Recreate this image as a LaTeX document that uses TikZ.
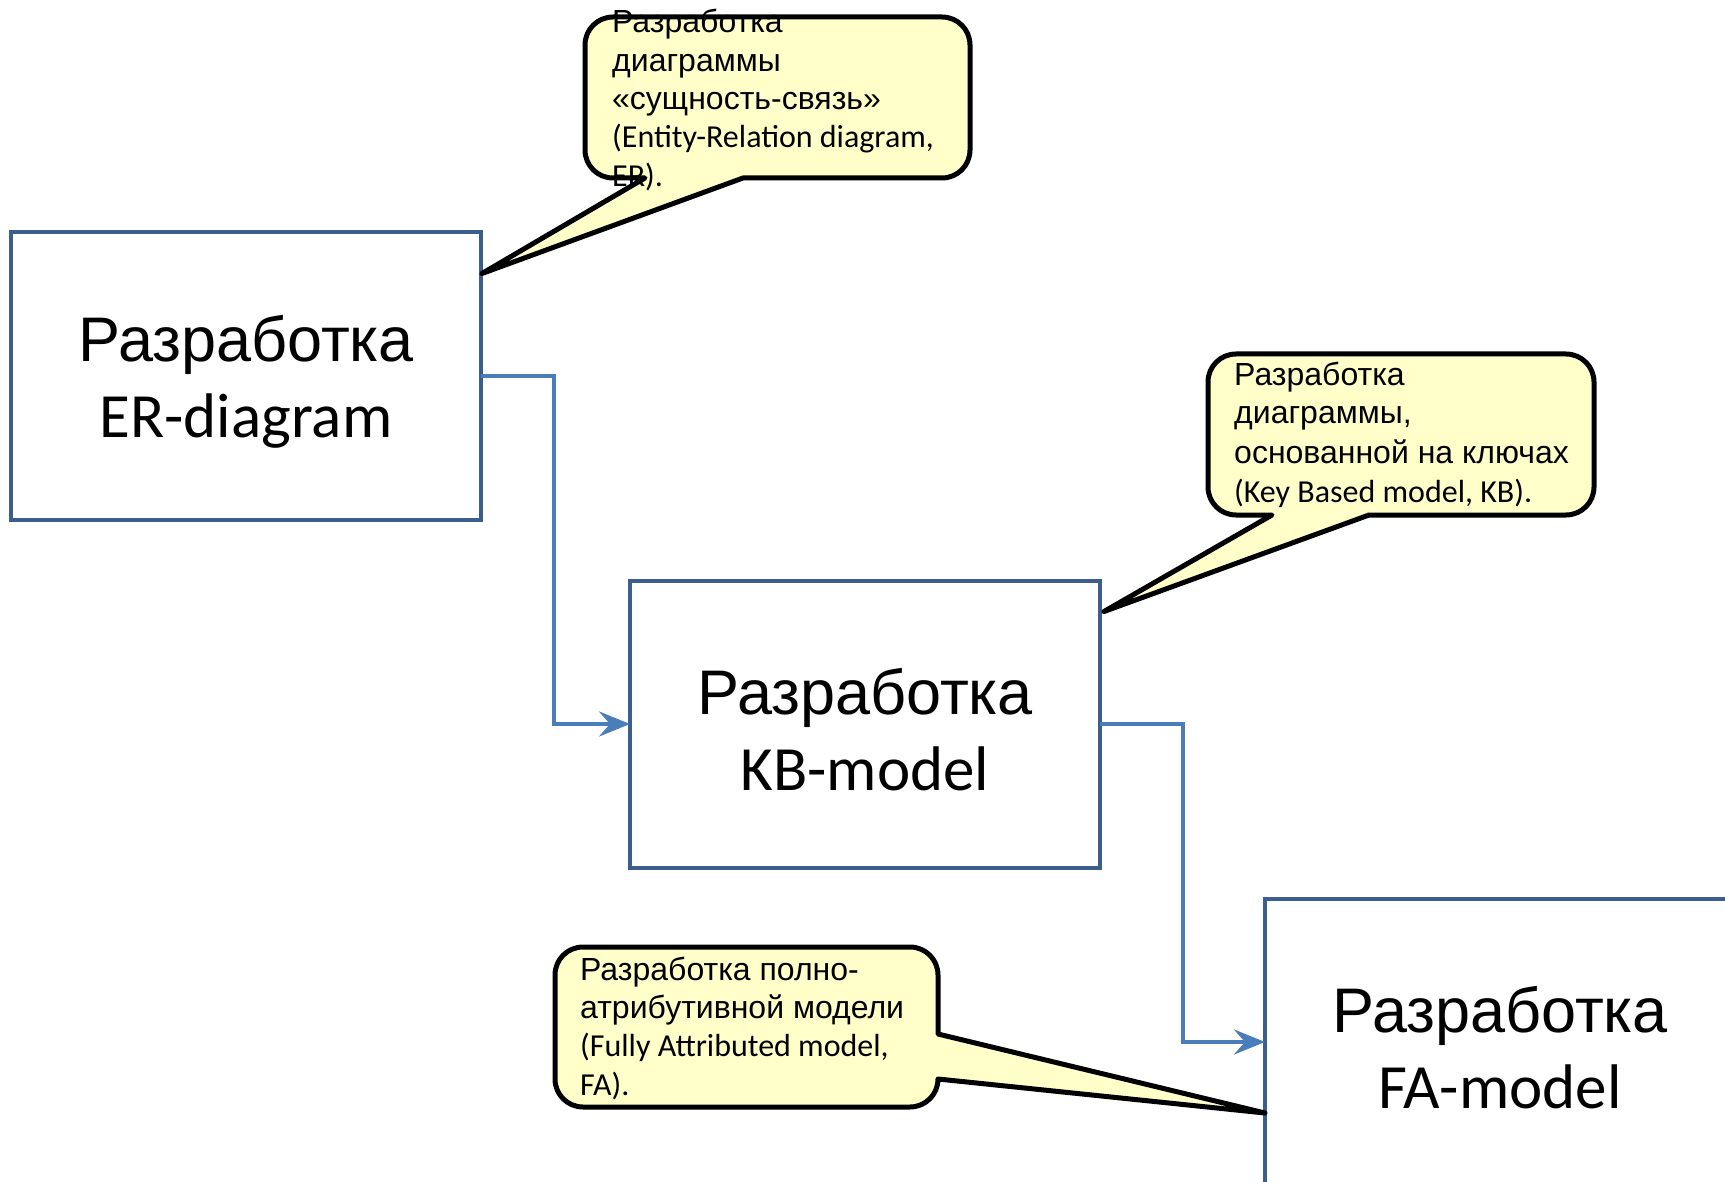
\documentclass[tikz,border=0pt]{standalone}
\usepackage{fontspec}
\setmainfont{Liberation Sans}
\newfontfamily\latfont{Carlito}
\usetikzlibrary{arrows.meta,calc}

\definecolor{boxline}{HTML}{3C5E8C}
\definecolor{linkline}{HTML}{4A7EBB}
\definecolor{noteyellow}{HTML}{FFFFCA}

\tikzset{
  stage/.style={draw=boxline, line width=4pt, fill=white, rectangle,
    minimum width=470pt, minimum height=287pt, inner sep=0pt, outer sep=0pt},
  stagetext/.style={align=center, inner sep=0pt, font=\fontsize{63}{76}\selectfont},
  link/.style={draw=linkline, line width=3.8pt,
    -{Stealth[length=31pt,width=25pt,inset=11pt]}},
  note/.style={draw=black, fill=noteyellow, line width=5pt, line join=round},
  notetext/.style={anchor=base west, inner sep=0pt, font=\fontsize{32}{38}\selectfont},
  notelat/.style={notetext, font=\fontsize{32}{38}\selectfont\latfont}
}

\begin{document}
\begin{tikzpicture}[x=1pt,y=-1pt]
\useasboundingbox (0,0) rectangle (1725,1182);
\clip (0,0) rectangle (1725,1182);

% process stages
\node[stage] (er) at (246,376) {};
\node[stage] (kb) at (865,724) {};
\node[stage] (fa) at (1500,1042) {};
\node[stagetext] (ert) at ($(er)+(0,6)$) {Разработка\\{\latfont ER-diagram}};
\node[stagetext] (kbt) at ($(kb)+(0,6)$) {Разработка\\{\latfont KB-model}};
\node[stagetext] (fat) at ($(fa)+(0,6)$) {Разработка\\{\latfont FA-model}};

% flow between stages
\draw[link] (er.east) -- ($(er.east)+(73,0)$) |- (kb.west);
\draw[link] (kb.east) -- ($(kb.east)+(83,0)$) |- (fa.west);

% pointer tips of the notes
\coordinate (t1) at ($(er.north east)+(1,41)$);
\coordinate (t2) at ($(kb.north east)+(4,31)$);
\coordinate (t3) at ($(fa.west)+(0,71)$);

% note outlines (rounded body with a wedge pointer)
\draw[note] (645,178) -- (t1) -- (743,178) -- (942,178)
  .. controls (957.5,178) and (970,165.5) .. (970,150) -- (970,45)
  .. controls (970,29.5) and (957.5,17) .. (942,17) -- (613,17)
  .. controls (597.5,17) and (585,29.5) .. (585,45) -- (585,150)
  .. controls (585,165.5) and (597.5,178) .. (613,178) -- cycle;
\draw[note] (1272,515) -- (t2) -- (1369,515) -- (1566,515)
  .. controls (1581.5,515) and (1594,502.5) .. (1594,487) -- (1594,382)
  .. controls (1594,366.5) and (1581.5,354) .. (1566,354) -- (1236,354)
  .. controls (1220.5,354) and (1208,366.5) .. (1208,382) -- (1208,487)
  .. controls (1208,502.5) and (1220.5,515) .. (1236,515) -- cycle;
\draw[note] (938,1034) -- (t3) -- (938,1079)
  .. controls (938,1094.5) and (925.5,1107) .. (910,1107) -- (583,1107)
  .. controls (567.5,1107) and (555,1094.5) .. (555,1079) -- (555,975)
  .. controls (555,959.5) and (567.5,947) .. (583,947) -- (910,947)
  .. controls (925.5,947) and (938,959.5) .. (938,975) -- cycle;

% note texts
\node[notetext] (n1a) at (612,33) {Разработка};
\node[notetext] (n1b) at (612,72) {диаграммы};
\node[notetext] (n1c) at (612,110) {«сущность-связь»};
\node[notelat]  (n1d) at (612,148) {(Entity-Relation diagram,};
\node[notelat]  (n1e) at (612,187) {ER).};

\node[notetext] (n2a) at (1234,385) {Разработка};
\node[notetext] (n2b) at (1234,424) {диаграммы,};
\node[notetext] (n2c) at (1234,463) {основанной на ключах};
\node[notelat]  (n2d) at (1234,502) {(Key Based model, KB).};

\node[notetext] (n3a) at (580,980) {Разработка полно-};
\node[notetext] (n3b) at (580,1018) {атрибутивной модели};
\node[notelat]  (n3c) at (580,1056) {(Fully Attributed model,};
\node[notelat]  (n3d) at (580,1095) {FA).};
\end{tikzpicture}
\end{document}
